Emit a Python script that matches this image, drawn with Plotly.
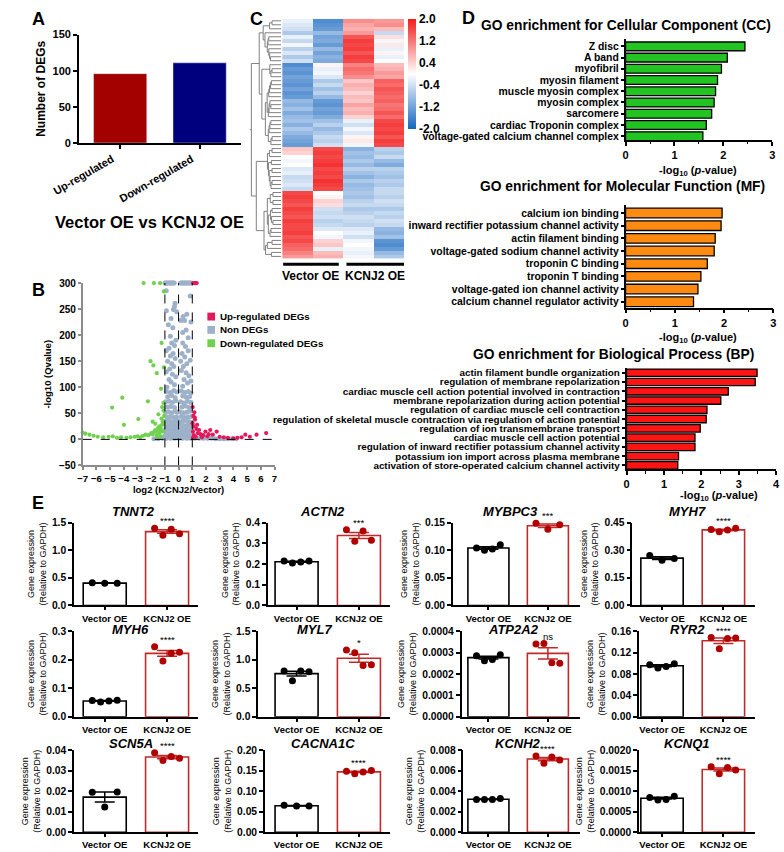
import numpy as np
import plotly.graph_objects as go

W, H = 784, 852
F = "Liberation Sans, Arial, sans-serif"

# ------------------------------------------------------------------ data
# Panel A
deg_groups = ['Up-regulated', 'Down-regulated']
deg_counts = [96, 111]
deg_colors = ['#a30000', '#00007f']

# Panel B (volcano): log2 fold change and -log10(Q)
thresholds = [-1, 0, 1]
gray_x = [-1.0, -0.92, -0.85, -0.78, -0.7, -0.62, -0.55, -0.48, -0.4, -0.32, 0.15, 0.22, 0.3, 0.38, 0.45, 0.52, 0.6, 0.68, 0.75, 0.82, 0.9,
          -0.9, 0.85, -0.26, -0.38, -0.89, -0.14, -0.3, 0.33, 0.16, 0.44, 0.6, -0.42, -0.6, 0.55, 0.3, -0.75, 0.7, -0.2, 0.9, -0.55,
          -0.5, -0.3, -0.7, -0.9, -0.4, -0.6, -0.25, -0.8, -0.5, -0.35, -0.65, -0.9, -0.45, -0.2, -0.7, -0.55, -0.3, -0.85,
          0.3, 0.5, 0.7, 0.25, 0.45, 0.85, 0.6, 0.35, 0.2, 0.55, 0.75, 0.4, 0.65, 0.3, 0.9, 0.15,
          -0.9, -0.6, -0.35, -0.15, 0.2, 0.45, 0.7, 0.9,
          -0.8, -0.5, -0.25, 0.3, 0.55, 0.8,
          -0.95, -0.7, -0.45, -0.2, 0.15, 0.4, 0.65, 0.9,
          -0.85, -0.6, -0.3, 0.25, 0.5, 0.75,
          -0.95, -0.75, -0.5, -0.25, -0.1, 0.1, 0.35, 0.6, 0.85,
          -0.85, -0.6, -0.35, -0.15, 0.2, 0.45, 0.7, 0.95,
          -0.95, -0.7, -0.45, -0.25, -0.08, 0.12, 0.3, 0.55, 0.8,
          -0.85, -0.6, -0.35, -0.15, 0.2, 0.42, 0.65, 0.9,
          -0.95, -0.75, -0.5, -0.3, -0.1, 0.1, 0.3, 0.5, 0.72, 0.95,
          -0.9, -0.65, -0.4, -0.2, 0.05, 0.22, 0.45, 0.65, 0.85,
          -1.0, -0.8, -0.55, -0.3, -0.1, 0.12, 0.35, 0.6, 0.8, 1.0,
          -1.2, -0.9, -0.6, -0.3, 0.0, 0.3, 0.6, 0.9, 1.2, 1.5, 1.8, 2.1, 2.4, 2.7, 3.0, 3.3, 3.6, 3.9, 4.2, -1.5, -1.8]
gray_y = [300, 300, 300, 300, 300, 300, 300, 300, 300, 300, 300, 300, 300, 300, 300, 300, 300, 300, 300, 300, 300,
          285, 275, 261, 249, 247, 245, 255, 236, 228, 228, 240, 214, 198, 210, 205, 220, 195, 190, 225, 232,
          185, 180, 175, 170, 165, 160, 155, 150, 145, 140, 135, 130, 125, 120, 115, 110, 105, 100,
          185, 178, 170, 165, 158, 152, 145, 140, 132, 128, 122, 115, 108, 102, 112, 150,
          92, 90, 94, 91, 93, 90, 92, 89,
          82, 84, 80, 83, 81, 82,
          72, 73, 71, 74, 72, 70, 73, 71,
          62, 63, 61, 62, 64, 61,
          52, 53, 51, 54, 52, 53, 51, 52, 54,
          43, 44, 42, 43, 44, 42, 43, 44,
          35, 36, 34, 35, 36, 34, 35, 36, 34,
          27, 28, 26, 27, 28, 26, 27, 28,
          20, 21, 19, 20, 21, 19, 20, 21, 19, 20,
          13, 14, 12, 13, 14, 12, 13, 14, 12,
          7, 8, 6, 7, 8, 6, 7, 8, 6, 7,
          2, 2, 2, 2, 2, 2, 2, 2, 2, 2, 2, 2, 2, 1, 1, 1, 1, 1, 1, 1, 1]
green_x = [-2.55, -1.8, -1.35, -1.07, -1.24, -2.05, -1.84, -1.59, -1.07, -1.28, -4.11, -4.85, -2.24, -2.94, -3.99, -1.47, -1.89,
           -7.0, -6.8, -6.5, -6.2, -5.9, -5.5, -5.1, -4.8, -4.5, -4.2, -3.8, -3.5, -3.2, -3.0, -2.8, -2.6, -2.4, -2.2, -2.0, -1.9,
           -1.8, -1.7, -1.6, -1.5, -1.4, -1.3, -1.2, -1.15, -1.1, -1.05, -1.6, -1.4, -1.25, -1.1, -1.5, -1.3, -1.15, -1.7, -1.2, -1.1, -1.35]
green_y = [300, 300, 300, 284, 185, 150, 142, 127, 138, 97, 80, 61, 73, 39, 28, 48, 34,
           13, 11, 9, 7, 5, 4, 5, 6, 3, 4, 3, 4, 5, 6, 4, 7, 9, 8, 12, 10,
           14, 18, 16, 22, 25, 20, 28, 35, 30, 45, 8, 12, 40, 55, 3, 6, 15, 30, 62, 70, 18]
red_x = [1.05, 1.15, 1.25, 1.32, 1.03, 1.15, 1.02, 1.08, 1.2, 1.1, 1.3, 1.05, 1.4, 1.5, 1.6, 1.8, 1.96, 2.1, 2.31, 2.5, 2.78,
         3.0, 3.3, 3.6, 4.0, 4.3, 4.6, 4.87, 5.2, 5.69, 6.39, 1.12, 1.25, 1.05, 1.35, 1.18, 1.7, 2.2]
red_y = [300, 300, 300, 300, 62, 52, 31, 45, 38, 25, 20, 15, 12, 18, 10, 8, 15, 6, 18, 9, 15,
         5, 4, 3, 2, 3, 4, 9, 5, 9, 12, 8, 5, 3, 28, 42, 4, 10]
volcano_names = ['Up-regulated DEGs', 'Non DEGs', 'Down-regulated DEGs']
volcano_colors = ['#e3195a', '#9db1c9', '#6fd14f']

# Panel C (heatmap, z-scores per sample)
hm_samples = ['Vector OE 1', 'Vector OE 2', 'KCNJ2 OE 1', 'KCNJ2 OE 2']
hm_c1 = [-0.2, -0.3, -0.4, -0.7, -0.2, -0.5, -0.1, -0.6, -0.3, -0.7, -0.4, -1.5, -1.3, -1.4, -1.2,
         -1.3, -1.4, -1.2, -1.4, -1.3, -0.9, -1.0, -0.8, -1.1, -0.9, -0.8, -1.0, -0.7, -0.9, -1.1, -1.2, -1.3,
         0.5, 0.4, 0.0, -0.1, 0.0, -0.3, -0.2, -0.5, -0.4, -0.3, -0.5,
         1.6, 1.7, 1.6, 1.5, 1.7, 1.6, 1.5, 1.7, 1.6, 1.6, 1.7, 1.5, 1.6, 1.4, 1.3, 1.1, 0.9]
hm_c2 = [-1.5, -1.4, -1.3, -0.9, -1.2, -1.1, -1.3, -0.9, -1.2, -1.0, -1.1, 0.1, -0.2, -0.1, -0.3,
         -0.7, -0.5, -0.8, -0.6, -0.9, -1.3, -1.4, -1.2, -1.3, -1.1, -0.8, -0.6, -0.9, -0.7, -0.5, -0.6, -0.4,
         1.6, 1.7, 1.6, 1.7, 1.8, 1.6, 1.7, 1.6, 1.8, 1.7, 1.6,
         0.0, 0.1, 0.4, 0.3, -0.4, -0.5, -0.4, -0.6, -0.5, -0.3, 0.0, -0.1, 0.4, 0.5, -0.2, 0.6, 0.7]
hm_c3 = [1.0, 0.8, 0.7, 0.9, 1.5, 1.7, 1.6, 1.7, 1.5, 1.7, 1.6, 1.1, 1.3, 1.2, 1.0,
         0.5, 0.7, 0.6, 0.4, 0.6, 0.5, 0.8, 0.6, 0.7, 0.4, -0.2, -0.4, -0.1, -0.3, 0.1, 0.2, -0.1,
         -1.0, -0.8, -0.9, -0.7, -0.9, -0.6, -0.8, -1.0, -0.7, -0.9, -0.8,
         -0.7, -0.8, -0.6, -0.5, -0.7, -0.6, -0.4, -0.5, -0.6, -0.3, -0.2, -0.4, -0.1, 0.0, -0.1, -0.2, -0.1]
hm_c4 = [0.9, 1.0, 0.6, -0.5, 0.3, -0.1, 0.2, -0.2, 0.1, -0.2, 0.0, 0.6, 0.7, 0.9, 0.8,
         1.4, 1.3, 1.5, 1.4, 1.3, 1.4, 1.2, 1.3, 1.5, 1.3, 1.6, 1.7, 1.6, 1.7, 1.5, 1.7, 1.6,
         -0.6, -0.7, -0.5, -0.9, -1.1, -0.6, -0.7, -0.8, -0.6, -0.7, -0.5,
         -0.5, -0.6, -0.4, -0.5, -0.7, -0.5, -0.6, -0.4, -0.5, -0.9, -1.0, -0.8, -1.4, -1.5, -1.3, -0.9, -0.7]
hm_ticks = [2.0, 1.2, 0.4, -0.4, -1.2, -2.0]

# Panel D (GO enrichment, -log10 p)
cc_terms = ['Z disc', 'A band', 'myofibril', 'myosin filament', 'muscle myosin complex', 'myosin complex',
            'sarcomere', 'cardiac Troponin complex', 'voltage-gated calcium channel complex']
cc_vals = [2.44, 2.08, 1.96, 1.88, 1.84, 1.81, 1.76, 1.65, 1.58]
mf_terms = ['calcium ion binding', 'inward rectifier potassium channel activity', 'actin filament binding',
            'voltage-gated sodium channel activity', 'troponin C binding', 'troponin T binding',
            'voltage-gated ion channel activity', 'calcium channel regulator activity']
mf_vals = [1.96, 1.94, 1.82, 1.80, 1.66, 1.53, 1.47, 1.38]
bp_terms = ['actin filament bundle organization', 'regulation of membrane repolarization',
            'cardiac muscle cell action potential involved in contraction',
            'membrane repolarization during action potential', 'regulation of cardiac muscle cell contraction',
            'regulation of skeletal muscle contraction via regulation of action potential',
            'regulation of ion transmembrane transport', 'cardiac muscle cell action potential',
            'regulation of inward rectifier potassium channel activity',
            'potassium ion import across plasma membrane', 'activation of store-operated calcium channel activity']
bp_vals = [3.49, 3.44, 2.72, 2.52, 2.15, 2.13, 1.97, 1.83, 1.83, 1.39, 1.37]

# Panel E (qPCR)
e_groups = ['Vector OE', 'KCNJ2 OE']
genes = ['TNNT2', 'ACTN2', 'MYBPC3', 'MYH7', 'MYH6', 'MYL7', 'ATP2A2', 'RYR2', 'SCN5A', 'CACNA1C', 'KCNH2', 'KCNQ1']
vec_pts = [[0.41, 0.40, 0.40], [0.215, 0.205, 0.21, 0.215], [0.104, 0.100, 0.102, 0.110], [0.272, 0.245, 0.255],
           [0.057, 0.052, 0.055, 0.058], [0.80, 0.63, 0.80, 0.79], [0.000285, 0.000262, 0.000268, 0.000290],
           [0.097, 0.091, 0.094, 0.099], [0.0195, 0.0123, 0.0197], [0.066, 0.064, 0.064],
           [0.0032, 0.0032, 0.0032, 0.0033], [0.00085, 0.00079, 0.00080, 0.00088]]
kcn_pts = [[1.40, 1.27, 1.38, 1.30], [0.365, 0.31, 0.36, 0.315], [0.149, 0.138, 0.146], [0.412, 0.400, 0.410, 0.420],
           [0.245, 0.195, 0.222, 0.226], [1.17, 1.12, 0.90, 0.91], [0.000340, 0.000342, 0.000252, 0.000250],
           [0.148, 0.127, 0.146, 0.147], [0.0388, 0.0350, 0.0370, 0.0362], [0.149, 0.143, 0.147, 0.151],
           [0.00745, 0.00675, 0.00735, 0.00705], [0.00160, 0.00143, 0.00158, 0.00152]]
y_tops = [1.5, 0.4, 0.15, 0.45, 0.3, 1.5, 0.0004, 0.16, 0.04, 0.20, 0.008, 0.0020]
y_steps = [0.5, 0.1, 0.05, 0.15, 0.1, 0.5, 0.0001, 0.04, 0.01, 0.05, 0.002, 0.0005]
tick_fmts = ['.1f', '.1f', '.2f', '.2f', '.1f', '.1f', '.4f', '.2f', '.2f', '.2f', '.3f', '.4f']
sig = ['****', '***', '***', '****', '****', '*', 'ns', '****', '****', '****', '****', '****']

# ------------------------------------------------------------------ helpers
axes, traces, shapes, annots = {}, [], [], []
counter = [0]


def px_x(v):
    return v / W


def px_y(v):
    return 1 - v / H


def bfont(size, bold=True, italic=False, color='black'):
    return dict(family=F, size=size, color=color, weight='bold' if bold else 'normal',
                style='italic' if italic else 'normal')


def add_axes(xd, yd, xo, yo):
    counter[0] += 1
    n = counter[0]
    s = '' if n == 1 else str(n)
    axes['xaxis' + s] = dict(domain=[px_x(xd[0]), px_x(xd[1])], anchor='y' + s, **xo)
    axes['yaxis' + s] = dict(domain=[px_y(yd[1]), px_y(yd[0])], anchor='x' + s, **yo)
    return 'x' + s, 'y' + s


def base(**kw):
    d = dict(showline=True, linecolor='black', linewidth=1.5, ticks='outside', ticklen=4, tickwidth=1.5,
             tickcolor='black', showgrid=False, zeroline=False, tickfont=bfont(10))
    d.update(kw)
    return d


def ann(text, x, y, size, bold=True, italic=False, xa='center', ya='middle', angle=0):
    annots.append(dict(text=text, x=px_x(x), y=px_y(y), xref='paper', yref='paper', showarrow=False,
                       xanchor=xa, yanchor=ya, font=bfont(size, bold, italic), textangle=angle))


# panel letters
for letter, lx, ly in [('A', 2, 1), ('B', 2, 276), ('C', 229, 1), ('D', 450, 0), ('E', 2, 492)]:
    ann(letter, lx, ly, 18, xa='left', ya='top')

# ------------------------------------------------------------------ Panel A
xa, ya = add_axes((53, 222), (29, 139),
                  base(range=[-0.52, 1.52], tickvals=[0, 1], ticktext=deg_groups, tickangle=-30, tickfont=bfont(11),
                       ticklabelshift=-8),
                  base(range=[0, 150], dtick=50, tickfont=bfont(11),
                       title=dict(text='Number of DEGs', font=bfont(12), standoff=4)))
traces.append(go.Bar(x=list(range(len(deg_groups))), y=deg_counts, width=0.67, marker=dict(color=deg_colors),
                     xaxis=xa, yaxis=ya))
ann('Vector OE vs KCNJ2 OE', 127, 219, 16.5)

# ------------------------------------------------------------------ Panel B
xb, yb = add_axes((57, 257), (281, 466),
                  base(range=[-7, 7], dtick=1, tickangle=0, linecolor='#8c8c8c', tickcolor='#8c8c8c',
                       tickfont=bfont(9.6), ticklen=3,
                       title=dict(text='log2 (KCNJ2/Vector)', font=bfont(9.5), standoff=3)),
                  base(range=[-50, 300], dtick=50, linecolor='#8c8c8c', tickcolor='#8c8c8c', tickfont=bfont(10),
                       ticklen=3, title=dict(text='-log10 (Qvalue)', font=bfont(9.5), standoff=6)))
for xs_, ys_, col, sz in [(gray_x, gray_y, volcano_colors[1], 5), (green_x, green_y, volcano_colors[2], 4.2),
                          (red_x, red_y, volcano_colors[0], 4.2)]:
    traces.append(go.Scatter(x=xs_, y=ys_, mode='markers', marker=dict(color=col, size=sz),
                             cliponaxis=False, xaxis=xb, yaxis=yb))
for t in thresholds:
    shapes.append(dict(type='line', xref=xb, yref=yb, x0=t, x1=t, y0=-50, y1=300,
                       line=dict(color='black', width=1, dash='dash')))
shapes.append(dict(type='line', xref=xb, yref=yb, x0=-7, x1=7, y0=0, y1=0,
                   line=dict(color='black', width=1, dash='dash')))
for i, (name, col) in enumerate(zip(volcano_names, volcano_colors)):
    cy = 315 + i * 13.5
    shapes.append(dict(type='rect', xref='paper', yref='paper', x0=px_x(187), x1=px_x(195),
                       y0=px_y(cy + 4), y1=px_y(cy - 4), fillcolor=col, line=dict(width=0)))
    ann(name, 198, cy, 9.8, xa='left')

# ------------------------------------------------------------------ Panel C
mat = np.array([hm_c1, hm_c2, hm_c3, hm_c4]).T
N = mat.shape[0]


def dendrogram(m):
    clusters = [{'m': [i], 'y': float(i), 'h': 0.0} for i in range(len(m))]
    xs, ys = [], []
    while len(clusters) > 1:
        best_k, best_d = 0, None
        for k in range(len(clusters) - 1):
            a, b = clusters[k], clusters[k + 1]
            d = np.mean([np.linalg.norm(m[i] - m[j]) for i in a['m'] for j in b['m']])
            if best_d is None or d < best_d:
                best_k, best_d = k, d
        a, b = clusters[best_k], clusters[best_k + 1]
        h = max(best_d, a['h'], b['h']) + 0.08
        for node in (a, b):
            xs += [np.sqrt(node['h']), np.sqrt(h), None]
            ys += [node['y'], node['y'], None]
        xs += [np.sqrt(h), np.sqrt(h), None]
        ys += [a['y'], b['y'], None]
        clusters[best_k:best_k + 2] = [{'m': a['m'] + b['m'], 'y': (a['y'] + b['y']) / 2, 'h': h}]
    r = clusters[0]
    xs += [np.sqrt(r['h']), np.sqrt(r['h']) * 1.06, None]
    ys += [r['y'], r['y'], None]
    return xs, ys, np.sqrt(r['h']) * 1.06


dxs, dys, dmax = dendrogram(mat)
xh, yh = add_axes((265, 392), (13, 256), dict(visible=False, range=[-0.5, 3.5]),
                  dict(visible=False, range=[N - 0.5, -0.5]))
traces.append(go.Heatmap(z=mat.tolist(), x=list(range(4)), y=list(range(N)), zmin=-2, zmax=2,
                         colorscale=[[0, '#1565c0'], [0.5, '#ffffff'], [1, '#f21c1c']],
                         colorbar=dict(x=px_x(396), xanchor='left', y=px_y(13), yanchor='top',
                                       lenmode='pixels', len=110, thicknessmode='pixels', thickness=8,
                                       tickvals=hm_ticks, ticktext=['%.1f' % v for v in hm_ticks],
                                       tickfont=bfont(12), outlinewidth=0, ticks='', ypad=0, xpad=0),
                         xaxis=xh, yaxis=yh))
xd_, yd_ = add_axes((231, 264), (13, 256), dict(visible=False, range=[dmax, 0]),
                    dict(visible=False, range=[N - 0.5, -0.5]))
traces.append(go.Scatter(x=dxs, y=dys, mode='lines', line=dict(color='#808080', width=1),
                         xaxis=xd_, yaxis=yd_))
for (x0, x1), lab in [((266, 324), 'Vector OE'), ((332, 392), 'KCNJ2 OE')]:
    shapes.append(dict(type='line', xref='paper', yref='paper', x0=px_x(x0), x1=px_x(x1),
                       y0=px_y(262), y1=px_y(262), line=dict(color='black', width=3)))
    ann(lab, (x0 + x1) / 2, 274, 12)

# ------------------------------------------------------------------ Panel D
go_panels = [
    (cc_terms, cc_vals, '#22c422', (623, 776), (33, 136), [8.35, -0.7], 3, 0.78, 10.4,
     'GO enrichment for Cellular Component (CC)', (623, 20), (698, 167)),
    (mf_terms, mf_vals, '#ff8a12', (623, 777), (202, 306), [7.47, -0.62], 3, 0.76, 10.4,
     'GO enrichment for Molecular Function (MF)', (620, 183), (698, 337)),
    (bp_terms, bp_vals, '#ff1414', (624, 780), (367, 470), [10.43, -0.53], 4, 0.8, 9.9,
     'GO enrichment for Biological Process (BP)', (610, 353), (720, 497)),
]
for terms, vals, col, xdom, ydom, yr, xmax, bw, fs, title, tpos, lpos in go_panels:
    gx, gy = add_axes(xdom, ydom,
                      base(range=[0, xmax], dtick=1, tickfont=bfont(11), ticklen=4,
                           minor=dict(dtick=0.5, ticklen=2.5, tickwidth=1, tickcolor='black', ticks='outside')),
                      base(range=yr, tickvals=list(range(len(terms))), ticktext=terms, ticklen=3,
                           tickfont=bfont(fs)))
    traces.append(go.Bar(x=vals, y=list(range(len(terms))), orientation='h', width=bw,
                         marker=dict(color=col, line=dict(color='black', width=1.3)), xaxis=gx, yaxis=gy))
    ann(title, tpos[0], tpos[1], 13.8)
    ann('-log<sub>10</sub> (<i>p</i>-value)', lpos[0], lpos[1], 11)

# ------------------------------------------------------------------ Panel E
ax_x0 = [48, 250, 443, 630, 48, 240, 452, 637, 48, 247, 454, 637]
col_right = [177, 377, 575, 758]
col_centers = [(80, 145), (280, 345), (480, 542), (661, 725)]
row_y = [(524, 608), (634, 721), (755, 838)]
title_y = [513, 632, 748]
title_x = [110, 307, 503, 688, 107, 299, 506, 688, 107, 308, 511, 687]
vec_col, kcn_col, kcn_dot = 'black', '#c22a2a', '#b00000'

for g in range(len(genes)):
    r, c = divmod(g, 4)
    c0, c1 = col_centers[c]
    s = c1 - c0
    xr = [(ax_x0[g] - c0) / s, (col_right[c] - c0) / s]
    top, step = y_tops[g], y_steps[g]
    tv = list(np.arange(0, top + step / 2, step))
    ex, ey = add_axes((ax_x0[g], col_right[c]), row_y[r],
                      base(range=xr, tickvals=[0, 1], ticktext=e_groups, tickfont=bfont(9.5), ticklen=3,
                           tickangle=0),
                      base(range=[0, top], tickvals=tv, tickformat=tick_fmts[g], tickfont=bfont(10.3),
                           title=dict(text='Gene expression<br>(Relative to GAPDH)', font=bfont(9, bold=False),
                                      standoff=4)))
    for xi, pts, lc, dc in [(0, vec_pts[g], vec_col, 'black'), (1, kcn_pts[g], kcn_col, kcn_dot)]:
        arr = np.array(pts)
        mean = arr.mean()
        sem = arr.std(ddof=1) / np.sqrt(len(arr))
        traces.append(go.Bar(x=[xi], y=[mean], width=0.69, marker=dict(color='white', line=dict(color=lc, width=1.6)),
                             error_y=dict(type='data', array=[sem], color=lc, thickness=1.5, width=10),
                             xaxis=ex, yaxis=ey))
        offs = np.linspace(-0.2, 0.2, len(arr)) if len(arr) > 1 else [0]
        traces.append(go.Scatter(x=[xi + o for o in offs], y=pts, mode='markers',
                                 marker=dict(color=dc, size=7), cliponaxis=False, xaxis=ex, yaxis=ey))
    kk = np.array(kcn_pts[g])
    ytop_pt = max(kk.max(), kk.mean() + kk.std(ddof=1) / np.sqrt(len(kk)))
    annots.append(dict(text=sig[g], x=1, y=ytop_pt, xref=ex, yref=ey, showarrow=False, yanchor='bottom',
                       yshift=0, font=bfont(9.5, bold=False)))
    ann(genes[g], title_x[g], title_y[r], 13, italic=True)

fig = go.Figure(data=traces)
fig.update_layout(**axes)
fig.update_layout(width=W, height=H, margin=dict(l=0, r=0, t=0, b=0), plot_bgcolor='white',
                  paper_bgcolor='white', showlegend=False, barmode='overlay', shapes=shapes,
                  annotations=annots, font=dict(family=F, color='black'))
fig.write_html('out.html', config={'displayModeBar': False},
               post_script="document.body.style.margin='0px';document.body.style.overflow='hidden';")
